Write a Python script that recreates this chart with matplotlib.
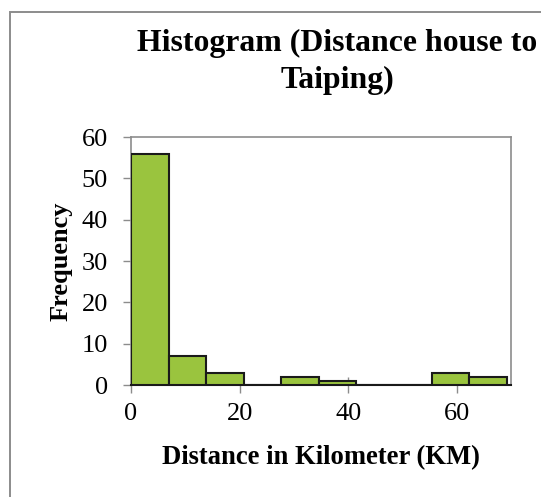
import matplotlib
matplotlib.use("Agg")
import matplotlib.pyplot as plt
import numpy as np
from matplotlib.patches import Rectangle

# Histogram bins (km) and frequencies
bin_edges = [0, 6.92, 13.84, 20.76, 27.68, 34.6, 41.52, 48.44, 55.36, 62.28, 69.2]
frequencies = [56, 7, 3, 0, 2, 1, 0, 0, 3, 2]
x_ticks = [0, 20, 40, 60]
y_ticks = [0, 10, 20, 30, 40, 50, 60]

title_lines = ["Histogram (Distance house to", "Taiping)"]
x_label = "Distance in Kilometer (KM)"
y_label = "Frequency"

plt.rcParams["font.family"] = ["Liberation Serif", "DejaVu Serif"]

W, H = 541, 497
fig = plt.figure(figsize=(W / 100, H / 100), dpi=100)
fig.patch.set_facecolor("white")

# outer chart frame
frame = Rectangle((10 / W, -0.1), 1.2, (H - 11.5) / H + 0.1,
                  transform=fig.transFigure, fill=False,
                  edgecolor="#8c8c8c", linewidth=1.4)
fig.patches.append(frame)

ax = fig.add_axes([131 / W, (H - 385) / H, 380 / W, 248 / H])

edges = np.array(bin_edges)
ax.bar(edges[:-1], frequencies, width=np.diff(edges), align="edge",
       color="#9ac43e", edgecolor="#1a1a1a", linewidth=1.5, zorder=3)

ax.set_xlim(0, 70)
ax.set_ylim(0, 60)
ax.set_xticks(x_ticks)
ax.set_yticks(y_ticks)

gray = "#8c8c8c"
for side in ("left", "top", "right"):
    ax.spines[side].set_color(gray)
    ax.spines[side].set_linewidth(1.2)
ax.spines["bottom"].set_color("#1a1a1a")
ax.spines["bottom"].set_linewidth(1.5)

ax.tick_params(axis="y", direction="out", length=6, width=1, color=gray,
               labelsize=19, pad=10.5)
ax.tick_params(axis="x", direction="inout", length=11.5, width=1, color=gray,
               labelsize=19, pad=7)

ax.set_xlabel(x_label, fontsize=19.2, fontweight="bold")
ax.xaxis.label.set_va("baseline")
ax.xaxis.set_label_coords(0.5, (385 - 464) / 248)

ax.set_ylabel(y_label, fontsize=19, fontweight="bold")
ax.yaxis.label.set_va("center")
ax.yaxis.set_label_coords((61 - 131) / 380, 0.5)

fig.text(337 / W, (H - 51) / H, title_lines[0], ha="center", va="baseline",
         fontsize=22.9, fontweight="bold")
fig.text(337 / W, (H - 88) / H, title_lines[1], ha="center", va="baseline",
         fontsize=22.9, fontweight="bold")

fig.savefig("out.png", dpi=100)
